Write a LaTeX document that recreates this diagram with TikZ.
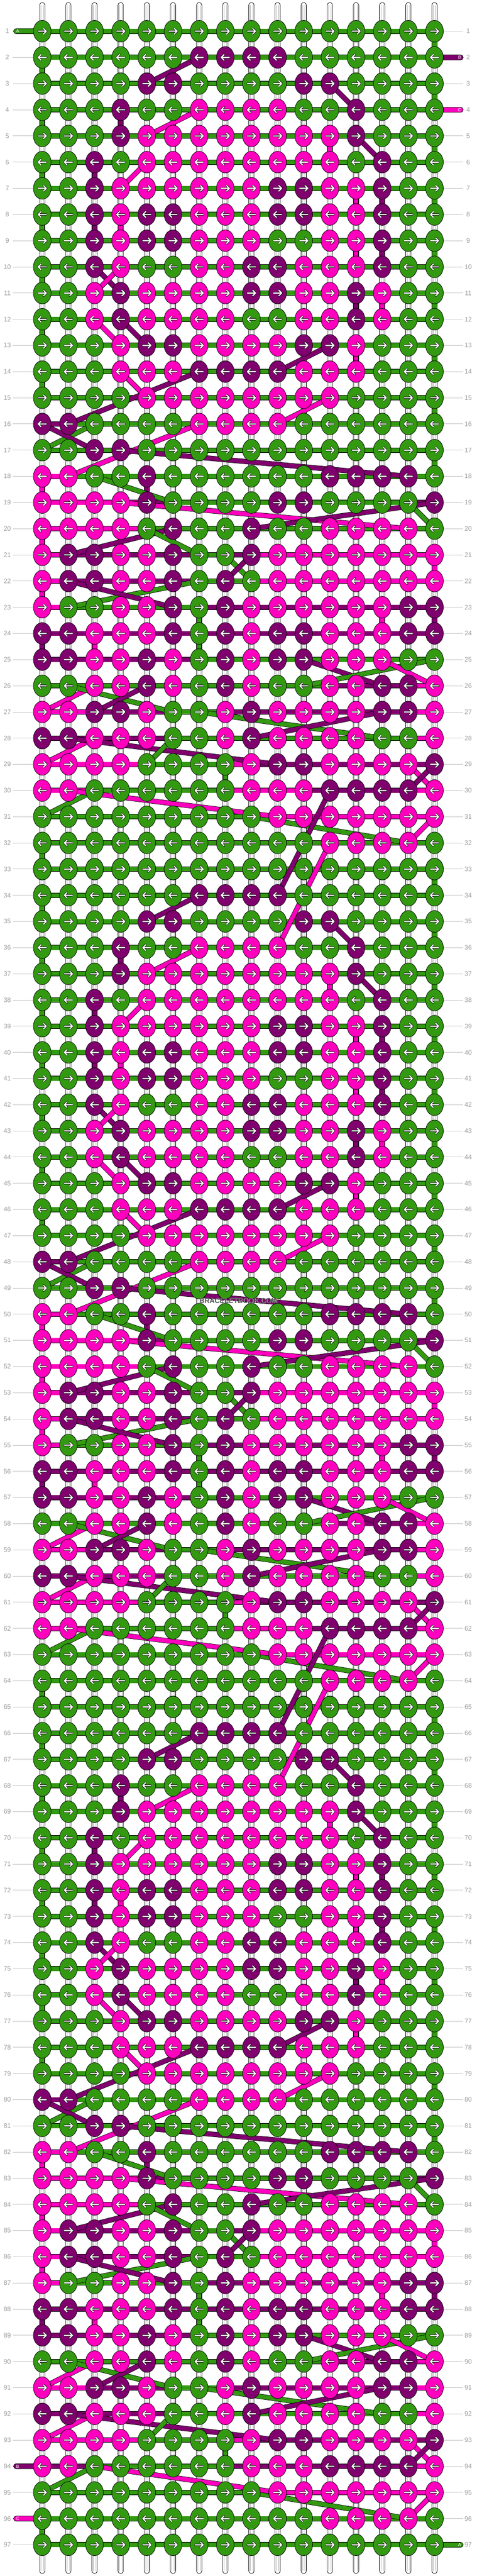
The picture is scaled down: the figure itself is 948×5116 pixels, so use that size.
\documentclass[tikz,border=0pt]{standalone}
\usepackage{fontspec}
\setmainfont{Liberation Sans}
\definecolor{cG}{RGB}{51,153,17}
\definecolor{cP}{RGB}{128,0,110}
\definecolor{cK}{RGB}{255,0,190}
\definecolor{lbl}{RGB}{155,155,155}
\definecolor{lln}{RGB}{195,195,195}
\definecolor{tln}{RGB}{185,185,185}
\definecolor{wmk}{RGB}{80,80,80}
\newcommand\dgl[5]{\pgfmathtruncatemacro\yA{10+52*(#2+\ro)}\pgfmathtruncatemacro\yB{10+52*(#4+\ro)}%
\pgfmathtruncatemacro\xA{32+52*#3}\pgfmathtruncatemacro\xB{32+52*#5}\draw[thr=c#1] (\xA,\yA) -- (\xB,\yB);}
\newcommand\vtl[3]{\pgfmathtruncatemacro\yA{10+52*(#2+\ro)}\pgfmathtruncatemacro\xA{32+52*#3}%
\draw[thr=c#1] (\xA,\yA) -- ++(0,52);}
\begin{document}
\begin{tikzpicture}[x=1pt,y=-1pt,
  thr/.style={draw=black,line width=0.8pt,double=#1,double distance=8.6pt},
  knot/.style={draw=black,line width=0.8pt,fill=#1},
  lab/.style={text=lbl,font=\fontsize{13}{13}\selectfont,inner sep=0pt},
  stubtxt/.style={text=white,font=\fontsize{9}{9}\selectfont,inner sep=0pt},
  stubbox/.style={draw=black,line width=0.8pt,fill=#1,rounded corners=4.9pt}]
\useasboundingbox (0,0) rectangle (948,5116);
% row labels and guide lines
\foreach \R in {1,...,97}{
  \pgfmathtruncatemacro\Y{10+52*\R}
  \draw[lln,line width=0.9pt] (26,\Y) -- (66,\Y) (882,\Y) -- (921,\Y);
  \node[lab] (ll-\R) at (14.5,\Y) {\R};
  \node[lab] (lr-\R) at (931,\Y) {\R};
}
% vertical base strings
\foreach \i in {1,...,16}{
  \pgfmathtruncatemacro\X{32+52*\i}
  \draw[line width=0.8pt,fill=white,rounded corners=5.2pt] (\X-5.3,5) rectangle (\X+5.3,5111);
  \draw[tln,line width=0.8pt] (\X-2.4,10) -- (\X-2.4,5106) (\X+2.4,10) -- (\X+2.4,5106);
}
% coloured vertical segments
\foreach \ro in {0,32,64}{
  \foreach \r in {1,3,5,7,9,11,13,15}{\vtl{G}{\r}{16}}
  \foreach \r in {2,4,6,8,10,12,14}{\vtl{G}{\r}{1}}
  \vtl{G}{17}{16}\vtl{G}{23}{7}\vtl{G}{24}{7}\vtl{G}{29}{8}\vtl{G}{32}{1}
  \vtl{P}{4}{4}\vtl{P}{6}{3}\vtl{P}{7}{14}\vtl{P}{8}{3}\vtl{P}{9}{14}\vtl{P}{11}{13}\vtl{P}{18}{5}\vtl{P}{23}{16}\vtl{P}{24}{1}
  \vtl{K}{5}{12}\vtl{K}{7}{13}\vtl{K}{8}{4}\vtl{K}{9}{13}\vtl{K}{11}{14}\vtl{K}{13}{13}\vtl{K}{18}{1}\vtl{K}{20}{1}\vtl{K}{21}{16}\vtl{K}{22}{1}\vtl{K}{23}{14}\vtl{K}{24}{3}
}
% horizontal segments (one path per row and colour)
\foreach \sr [count=\r] in {
{G,G,G,G,G,G,G,G,G,G,G,G,G,G,G},{G,G,G,G,G,G,G,G,G,G,G,G,G,G,G},{G,G,G,G,G,G,G,G,G,G,G,G,G,G,G},{G,G,G,G,G,G,G,G,G,G,G,G,G,G,G},
{G,G,G,G,G,G,G,G,G,G,G,G,G,G,G},{G,G,G,G,G,G,G,G,G,G,G,G,G,G,G},{G,G,G,G,G,G,G,G,G,G,G,G,G,G,G},{G,G,G,G,G,G,G,G,G,G,G,G,G,G,G},
{G,G,G,G,G,G,G,G,G,G,G,G,G,G,G},{G,G,G,G,G,G,G,G,G,G,G,G,G,G,G},{G,G,G,G,G,G,G,G,G,G,G,G,G,G,G},{G,G,G,G,G,G,G,G,G,G,G,G,G,G,G},
{G,G,G,G,G,G,G,G,G,G,G,G,G,G,G},{G,G,G,G,G,G,G,G,G,G,G,G,G,G,G},{G,G,G,G,G,G,G,G,G,G,G,G,G,G,G},{P,G,G,G,G,G,G,G,G,G,G,G,G,G,G},
{G,G,G,G,G,G,G,G,G,G,G,G,G,G,G},{K,G,G,G,G,G,G,G,G,G,G,G,G,G,G},{K,K,K,K,P,G,G,G,G,G,G,G,G,G,P},{K,K,K,K,G,G,G,G,G,G,G,G,G,G,G},
{K,P,P,P,P,P,G,P,K,K,K,K,K,K,K},{K,P,P,P,P,P,G,G,K,K,K,K,K,K,K},{K,G,G,G,G,G,P,P,P,P,P,P,P,P,P},{P,P,P,P,P,P,P,P,P,P,P,P,P,P,P},
{P,P,P,P,P,P,G,G,G,G,G,G,G,G,G},{G,G,G,G,G,G,G,G,G,G,G,P,P,P,K},{K,K,P,P,P,G,G,P,P,P,P,P,P,P,K},{P,P,P,P,P,G,G,G,G,G,G,G,G,G,K},
{K,K,K,K,G,G,G,K,P,P,P,P,P,P,P},{K,K,G,G,G,G,G,K,K,K,P,P,P,P,K},{G,G,G,G,G,G,G,G,K,K,K,K,K,K,K},{G,G,G,G,G,G,G,G,G,G,G,G,G,G,G}}{
  \foreach \k in {0,1,2}{
    \pgfmathtruncatemacro\R{\r+32*\k}
    \pgfmathtruncatemacro\Y{10+52*\R}
    \gdef\sG{}\gdef\sP{}\gdef\sK{}
    \foreach \c [count=\i] in \sr {
      \pgfmathtruncatemacro\X{32+52*\i}\pgfmathtruncatemacro\XX{84+52*\i}
      \expandafter\xdef\csname s\c\endcsname{\csname s\c\endcsname (\X,\Y) -- (\XX,\Y) }
    }
    \ifx\sG\empty\else\draw[thr=cG] \sG;\fi
    \ifx\sP\empty\else\draw[thr=cP] \sP;\fi
    \ifx\sK\empty\else\draw[thr=cK] \sK;\fi
  }
}
\draw[thr=cP] (84,4898) -- (136,4898) -- (188,4898) (448,4898) -- (864,4898);
\draw[thr=cK] (812,4898) -- (864,4898);
\draw[thr=cG] (84,5054) -- (864,5054);
% end strings
\draw[stubbox=cG] (27,57) rectangle (84,67);
\draw[stubbox=cP] (864,109) rectangle (921,119);
\draw[stubbox=cK] (864,213) rectangle (921,223);
\draw[stubbox=cP] (27,4893) rectangle (84,4903);
\draw[stubbox=cK] (27,4997) rectangle (84,5007);
\draw[stubbox=cG] (864,5049) rectangle (921,5059);
% carried strings
\foreach \ro in {0,32,64}{
  \dgl{P}{2}{7}{3}{5}\dgl{P}{3}{12}{4}{13}\dgl{K}{4}{7}{5}{5}\dgl{P}{5}{13}{6}{14}\dgl{K}{6}{5}{7}{4}
  \dgl{P}{10}{3}{11}{4}\dgl{K}{10}{4}{11}{3}\dgl{P}{12}{4}{13}{5}\dgl{K}{12}{3}{13}{4}\dgl{P}{13}{12}{14}{10}
  \dgl{K}{14}{4}{15}{5}\dgl{P}{14}{7}{16}{2}\dgl{K}{15}{12}{16}{10}\dgl{K}{16}{7}{18}{2}\dgl{G}{16}{3}{17}{1}\dgl{P}{16}{1}{17}{3}
  \dgl{P}{17}{4}{18}{15}\dgl{G}{18}{3}{19}{6}\dgl{K}{19}{4}{20}{15}\dgl{P}{19}{16}{20}{9}\dgl{G}{19}{15}{20}{16}
  \dgl{P}{20}{6}{21}{2}\dgl{G}{20}{5}{21}{7}\dgl{G}{21}{8}{22}{9}\dgl{P}{21}{9}{22}{8}\dgl{G}{22}{7}{23}{2}\dgl{P}{22}{2}{23}{6}
  \dgl{P}{25}{11}{26}{14}\dgl{G}{25}{16}{26}{11}\dgl{K}{25}{14}{26}{16}\dgl{K}{26}{3}{27}{1}\dgl{G}{26}{2}{27}{6}\dgl{P}{26}{5}{27}{3}
  \dgl{G}{27}{7}{28}{14}\dgl{P}{27}{14}{28}{9}\dgl{K}{28}{3}{29}{1}\dgl{P}{28}{2}{29}{10}\dgl{G}{28}{6}{29}{5}
  \dgl{K}{29}{15}{30}{16}\dgl{P}{29}{16}{30}{15}\dgl{G}{30}{3}{31}{1}\dgl{G}{31}{9}{32}{15}\dgl{K}{31}{16}{32}{15}
}
\foreach \ro in {0,32}{\dgl{K}{30}{2}{31}{10}\dgl{P}{30}{12}{34}{10}\dgl{K}{32}{12}{36}{10}}
\def\ro{64}\dgl{K}{30}{3}{31}{10}
% knots and arrows (one path per row and colour)
\foreach \kr [count=\r] in {
{G,G,G,G,G,G,G,G,G,G,G,G,G,G,G,G},{G,G,G,G,G,G,P,P,P,P,G,G,G,G,G,G},{G,G,G,G,P,P,G,G,G,G,P,P,G,G,G,G},{G,G,G,P,G,G,K,K,K,K,G,G,P,G,G,G},
{G,G,G,P,K,K,K,K,K,K,K,K,P,G,G,G},{G,G,P,G,K,K,K,K,K,K,K,K,G,P,G,G},{G,G,P,K,K,K,K,K,K,P,P,K,K,P,G,G},{G,G,P,K,P,P,K,K,K,P,P,K,K,P,G,G},
{G,G,P,K,P,P,K,K,K,G,G,K,K,P,G,G},{G,G,P,K,G,G,K,K,P,P,K,K,K,P,G,G},{G,G,K,P,K,K,K,K,P,P,K,K,P,K,G,G},{G,G,K,P,K,K,K,K,G,G,K,K,P,K,G,G},
{G,G,G,K,P,P,K,K,K,K,P,P,K,G,G,G},{G,G,G,K,K,K,P,P,P,P,K,K,K,G,G,G},{G,G,G,G,K,K,K,K,K,K,K,K,G,G,G,G},{P,P,G,G,G,G,K,K,K,K,G,G,G,G,G,G},
{G,G,P,P,G,G,G,G,G,G,G,G,G,G,G,G},{K,K,G,G,P,G,G,G,G,G,G,P,P,P,P,G},{K,K,K,K,P,G,G,G,G,P,P,G,G,G,G,P},{K,K,K,K,G,P,G,G,P,G,G,K,K,K,K,G},
{K,P,P,K,K,P,G,G,P,K,K,K,K,K,K,K},{K,P,P,K,K,P,G,P,G,K,K,K,K,K,K,K},{K,G,G,K,K,P,G,P,K,K,K,K,K,K,P,P},{P,P,K,K,K,P,G,P,K,P,P,K,K,K,P,P},
{P,P,K,K,P,K,G,P,K,P,P,K,K,K,G,G},{G,G,K,K,P,K,G,P,K,G,G,K,K,P,P,K},{K,K,P,P,K,G,G,K,P,K,K,K,K,P,P,K},{P,P,K,K,K,G,G,K,P,K,K,K,K,G,G,K},
{K,K,K,K,G,G,G,G,K,P,P,K,K,K,K,P},{K,K,G,G,G,G,G,G,K,K,K,P,P,P,P,K},{G,G,G,G,G,G,G,G,G,K,K,K,K,K,K,K},{G,G,G,G,G,G,G,G,G,G,G,K,K,K,K,G},
{G,G,G,G,G,G,G,G,G,G,G,G,G,G,G,G}}{
  \foreach \k in {0,1,2}{
    \pgfmathtruncatemacro\R{\r+32*\k}
    \ifnum\R<98
    \pgfmathtruncatemacro\Y{10+52*\R}
    \gdef\pG{}\gdef\pP{}\gdef\pK{}\gdef\pA{}
    \foreach \c [count=\i] in \kr {
      \pgfmathtruncatemacro\X{32+52*\i}
      \expandafter\xdef\csname p\c\endcsname{\csname p\c\endcsname (\X,\Y) ellipse (17.6pt and 21.6pt) }
      \ifodd\R
        \pgfmathtruncatemacro\XA{\X-8}
        \xdef\pA{\pA (\XA,\Y) -- ++(16,0) ++(-5.5,-5.5) -- ++(5.5,5.5) -- ++(-5.5,5.5) }
      \else
        \pgfmathtruncatemacro\XA{\X+8}
        \xdef\pA{\pA (\XA,\Y) -- ++(-16,0) ++(5.5,-5.5) -- ++(-5.5,5.5) -- ++(5.5,5.5) }
      \fi
    }
    \ifx\pG\empty\else\filldraw[knot=cG] \pG;\fi
    \ifx\pP\empty\else\filldraw[knot=cP] \pP;\fi
    \ifx\pK\empty\else\filldraw[knot=cK] \pK;\fi
    \draw[black,line width=3.9pt,line cap=round,line join=round] \pA;
    \draw[white,line width=2.3pt,line cap=round,line join=round] \pA;
    \fi
  }
}
% end-string letters
\node[stubtxt] (tA1) at (35,62) {A};
\node[stubtxt] (tB1) at (914,114) {B};
\node[stubtxt] (tC1) at (914,218) {C};
\node[stubtxt] (tB2) at (35,4898) {B};
\node[stubtxt] (tC2) at (35,5002) {C};
\node[stubtxt] (tA2) at (914,5054) {A};
% watermark
\node[text=white,font=\bfseries\fontsize{14}{14}\selectfont,inner sep=1pt] (wmb) at (474.6,2583.6) {BRACELETBOOK.COM};
\node[text=wmk,font=\bfseries\fontsize{14}{14}\selectfont,inner sep=1pt] (wm) at (474,2583) {BRACELETBOOK.COM};
\end{tikzpicture}
\end{document}
